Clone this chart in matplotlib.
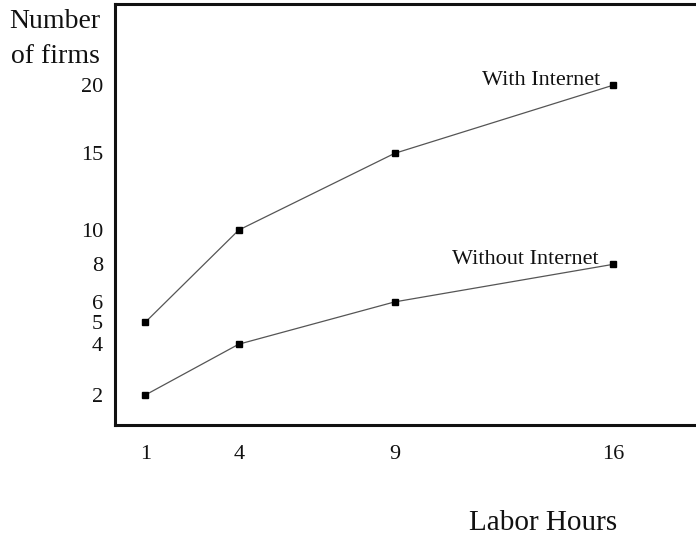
import matplotlib
matplotlib.use("Agg")
import matplotlib.pyplot as plt
import numpy as np

labor_hours = [1, 4, 9, 16]
with_internet = [5, 10, 15, 20]
without_internet = [2, 4, 6, 8]
y_ticks = [2, 4, 5, 6, 8, 10, 15, 20]
x_ticks = [1, 4, 9, 16]

plt.rcParams['font.family'] = ['Liberation Serif', 'DejaVu Serif']

fig = plt.figure(figsize=(6.96, 5.39), dpi=100)
ax = fig.add_axes([115/696, 1 - 425/539, (696 - 115)/696 + 0.01, (425 - 4)/539])

p = 0.65
ax.set_yscale('function', functions=(lambda v: np.sign(v) * np.abs(v) ** p,
                                     lambda u: np.sign(u) * np.abs(u) ** (1 / p)))

line_kw = dict(color='#555555', linewidth=0.9, marker='s', markersize=4.2,
               markerfacecolor='black', markeredgecolor='black')
ax.plot(labor_hours, with_internet, **line_kw)
ax.plot(labor_hours, without_internet, **line_kw)

ax.set_xlim(0.03, 18.67 + 0.22)
ax.set_ylim(1.067, 26.6)
ax.set_xticks(x_ticks)
ax.set_yticks(y_ticks)
ax.set_xticklabels([str(v) for v in x_ticks])
ax.set_yticklabels([str(v) for v in y_ticks])
ax.minorticks_off()
ax.tick_params(axis='both', length=0, labelsize=16, labelcolor='#111111')
ax.tick_params(axis='y', pad=8.5)
ax.tick_params(axis='x', pad=14.5)

for s in ['left', 'bottom', 'top']:
    ax.spines[s].set_linewidth(2.2)
    ax.spines[s].set_color('#111111')
ax.spines['right'].set_visible(False)

ax.annotate('With Internet', xy=(labor_hours[-1], with_internet[-1]),
            xytext=(-9, 0), textcoords='offset points', ha='right', va='baseline',
            fontsize=16, color='#111111')
ax.annotate('Without Internet', xy=(labor_hours[-1], without_internet[-1]),
            xytext=(-10, 0), textcoords='offset points', ha='right', va='baseline',
            fontsize=16, color='#111111')

fig.text(100/696, 1 - 28/539, 'Number', ha='right', va='baseline',
         fontsize=20, color='#111111')
fig.text(100/696, 1 - 63/539, 'of firms', ha='right', va='baseline',
         fontsize=20, color='#111111')
fig.text(543/696, 1 - 523/539, 'Labor Hours', ha='center', va='center',
         fontsize=21, color='#111111')

fig.savefig('out.png', dpi=100)
